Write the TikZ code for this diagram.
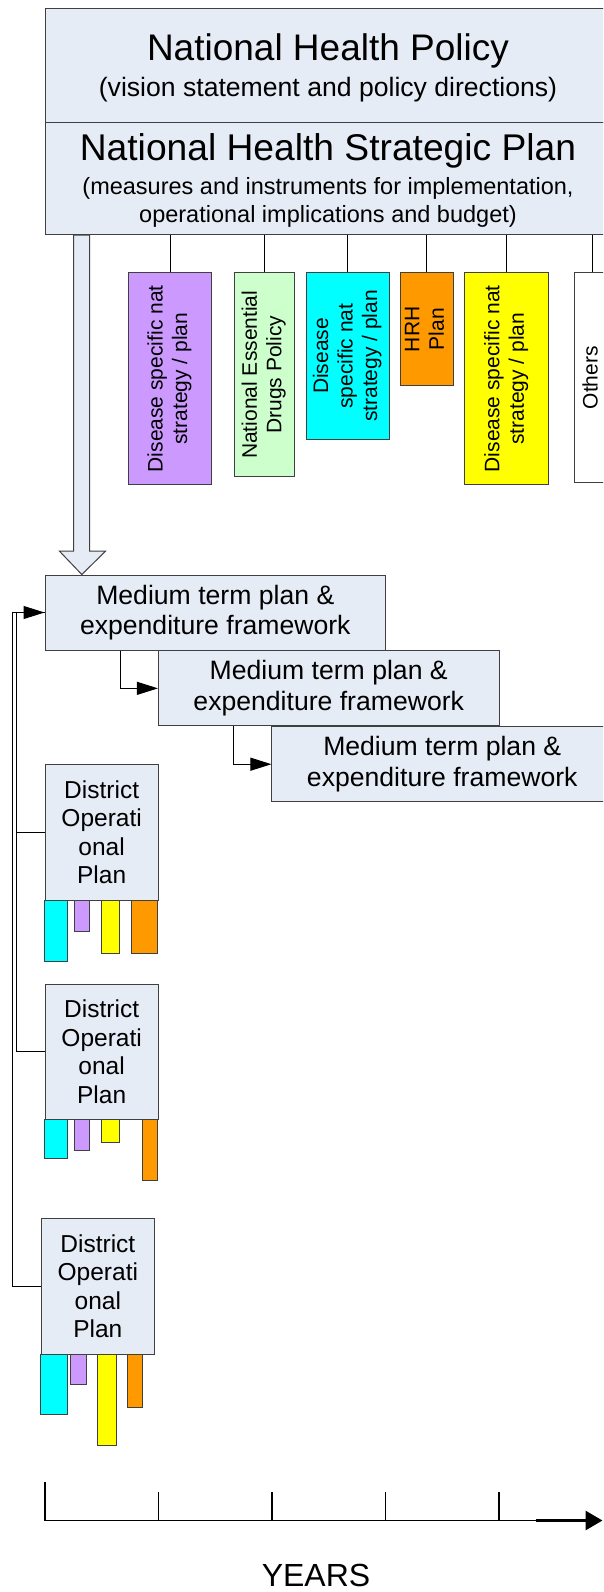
\documentclass[tikz,border=0pt]{standalone}
\usepackage{fontspec}
\setmainfont{Liberation Sans}
\usetikzlibrary{arrows.meta,calc}

\definecolor{boxblue}{RGB}{230,236,246}
\definecolor{dpurple}{RGB}{204,153,255}
\definecolor{dgreen}{RGB}{204,255,204}
\definecolor{dcyan}{RGB}{0,255,255}
\definecolor{dorange}{RGB}{255,153,0}
\definecolor{dyellow}{RGB}{255,255,0}
\definecolor{edge}{RGB}{64,64,64}

\newcommand{\fs}[2]{\fontsize{#1}{#2}\selectfont}
\newcommand{\vlabel}[1]{\rotatebox{90}{\begin{tabular}{@{}c@{}}#1\end{tabular}}}

\begin{document}
\begin{tikzpicture}[x=1pt,y=-1pt,
  box/.style={draw=edge, line width=1pt, fill=boxblue, inner sep=0pt, align=center},
  plan/.style={draw=edge, line width=1pt, inner sep=0pt, font=\fs{21}{24.5}},
  bar/.style={draw=edge, line width=0.8pt},
  link/.style={draw=black, line width=1pt},
  >={Triangle[length=21pt,width=13pt]}]

\path[use as bounding box, clip] (0,0) rectangle (603,1592);

\node[box, minimum width=566pt, minimum height=114pt, font=\fs{26.6}{36}] (nhp) at (328,65.3) {{\fs{37}{40}\rule{0pt}{32pt}National Health Policy}\\(vision statement and policy directions)};

\node[box, minimum width=566pt, minimum height=112.4pt, font=\fs{23.5}{27.5}] (nhsp) at (328,178.5) {{\fs{37.2}{40}\rule{0pt}{30pt}National Health Strategic Plan}\\[7pt](measures and instruments for implementation,\\operational implications and budget)};

\node[plan, fill=dpurple, minimum width=83.4pt, minimum height=212.3pt] (p1) at (170,378.8) {\vlabel{Disease specific nat\\strategy / plan}};
\node[plan, fill=dgreen, minimum width=60.3pt, minimum height=204.3pt] (p2) at (264.2,374.8) {\vlabel{National Essential\\Drugs Policy}};
\node[plan, fill=dcyan, minimum width=83.3pt, minimum height=166.6pt] (p3) at (347.7,356) {\vlabel{Disease\\specific nat\\strategy / plan}};
\node[plan, fill=dorange, minimum width=53pt, minimum height=113.3pt] (p4) at (426.8,329.3) {\vlabel{HRH\\Plan}};
\node[plan, fill=dyellow, minimum width=83.7pt, minimum height=212.3pt] (p5) at (506.8,378.8) {\vlabel{Disease specific nat\\strategy / plan}};
\node[plan, fill=white, minimum width=36.8pt, minimum height=210pt] (p6) at (592.7,377.7) {\vlabel{Others}};

\foreach \p in {p1,p2,p3,p4,p5,p6}
  \draw[link] (\p.north) -- (\p.north |- nhsp.south);

\node[box, minimum width=340.6pt, minimum height=75pt, font=\fs{26.6}{30.5}] (m1) at (215.3,612.5) {Medium term plan \&\\expenditure framework};
\node[box, minimum width=340.6pt, minimum height=75pt, font=\fs{26.6}{30.5}] (m2) at (328.75,688.35) {Medium term plan \&\\expenditure framework};
\node[box, minimum width=340.6pt, minimum height=75pt, font=\fs{26.6}{30.5}] (m3) at (442.25,764.2) {Medium term plan \&\\expenditure framework};

\coordinate (tip) at ([xshift=37.3pt]m1.north west);
\coordinate (tail) at (tip |- nhsp.south);
\draw[draw=edge, line width=1pt, fill=boxblue] (tip) -- ++(-22.3,-23.3) -- ++(14,0) -- ($(tail)+(-8.3,0)$) -- ($(tail)+(7.7,0)$) -- ($(tip)+(7.7,-23.3)$) -- ++(16,0) -- cycle;

\draw[link,->] ([xshift=76pt]m1.south west) |- (m2.west);
\draw[link,->] ([xshift=76pt]m2.south west) |- (m3.west);

\node[box, minimum width=113.3pt, minimum height=135.3pt, font=\fs{24.5}{28.5}] (d1) at (101.65,832.35) {District\\Operati\\onal\\Plan};
\node[box, minimum width=113.3pt, minimum height=135.3pt, font=\fs{24.5}{28.5}] (d2) at (101.65,1051.65) {District\\Operati\\onal\\Plan};
\node[box, minimum width=113.7pt, minimum height=136pt, font=\fs{24.5}{28.5}] (d3) at (97.85,1286) {District\\Operati\\onal\\Plan};

\foreach \x/\w/\h/\c in {0/22.7/61/dcyan, 30/15.3/30.7/dpurple, 56.7/18.6/53.3/dyellow, 87.3/26/53.3/dorange}
  \draw[bar, fill=\c] ([xshift=\x pt]d1.south west) rectangle ++(\w,\h);
\foreach \x/\w/\h/\c in {0/22.7/38.4/dcyan, 30/15.3/30.7/dpurple, 56.7/18.6/23/dyellow, 98.3/15/60.7/dorange}
  \draw[bar, fill=\c] ([xshift=\x pt]d2.south west) rectangle ++(\w,\h);
\foreach \x/\w/\h/\c in {0/26.7/60.3/dcyan, 30.3/15.4/30.3/dpurple, 56.7/19/91/dyellow, 87.3/15/53/dorange}
  \draw[bar, fill=\c] ([xshift=\x pt]d3.south west) rectangle ++(\w,\h);

\coordinate (fbin) at ([xshift=-28.3pt]m1.west);
\coordinate (fbout) at ([xshift=-32.3pt]m1.west);
\draw[link] (d1.west) -- (d1.west -| fbin);
\draw[link] (d2.west) -| (fbin) -- (m1.west);
\draw[link,->] (d3.west) -| (fbout) -- (m1.west);

\coordinate (t0) at (45,1520.5);
\coordinate (tk) at (536,1520.5);
\coordinate (tend) at (602.5,1520.5);
\draw[line width=1.5pt] (t0) -- ++(0,-38.8);
\foreach \x in {113.5,227,340.5,454}
  \draw[line width=1.5pt] ([xshift=\x pt]t0) -- ++(0,-28.8);
\draw[line width=1.3pt] (t0) -- (tk);
\draw[line width=3pt, -{Triangle[length=17pt 0 0,width=19pt 0 0]}] (tk) -- (tend);

\node[font=\fs{32}{36}] (years) at (316,1575) {YEARS};

\end{tikzpicture}
\end{document}
